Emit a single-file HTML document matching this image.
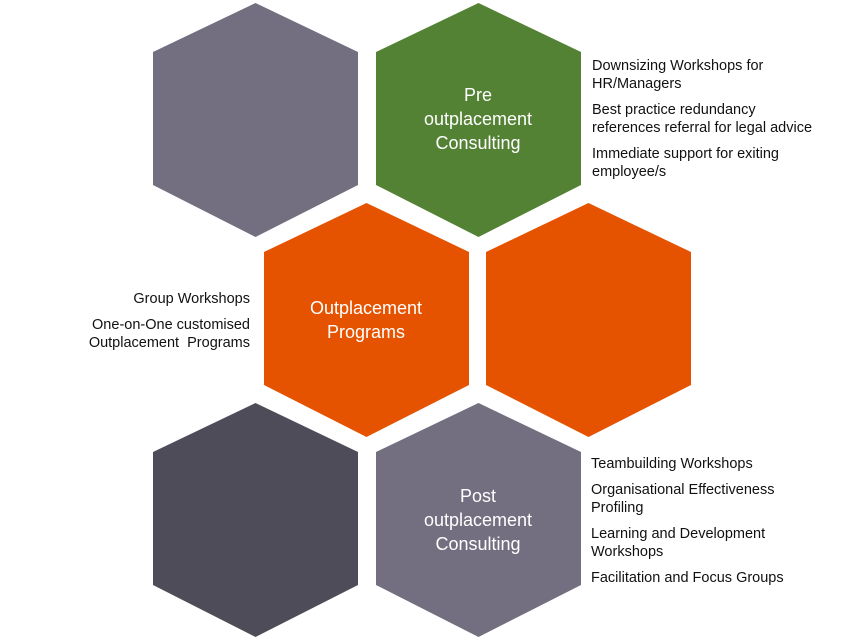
<!DOCTYPE html>
<html><head><meta charset="utf-8"><style>
body{margin:0;background:#fff;width:850px;height:640px;overflow:hidden;font-family:"Liberation Sans",sans-serif}
svg{position:absolute;left:0;top:0}
.t{position:absolute;font-size:14.5px;color:#111;line-height:18px;white-space:nowrap}
.t p{margin:0 0 8px 0}
</style></head><body>
<svg width="850" height="640">
<defs><polygon id="h" points="102.5,0 205,49 205,182 102.5,234 0,182 0,49"/></defs>
<use href="#h" x="153" y="3" fill="#736f80"/>
<use href="#h" x="376" y="3" fill="#548235"/>
<use href="#h" x="264" y="203" fill="#e65300"/>
<use href="#h" x="486" y="203" fill="#e65300"/>
<use href="#h" x="153" y="403" fill="#4f4c5a"/>
<use href="#h" x="376" y="403" fill="#736f80"/>
<g fill="#fff" font-size="18" font-family="Liberation Sans,sans-serif" text-anchor="middle">
<text x="478" y="101">Pre</text><text x="478" y="125">outplacement</text><text x="478" y="149">Consulting</text>
<text x="366" y="314">Outplacement</text><text x="366" y="338">Programs</text>
<text x="478" y="502">Post</text><text x="478" y="526">outplacement</text><text x="478" y="550">Consulting</text>
</g>
</svg>
<div class="t" style="left:592px;top:57px">
<p>Downsizing Workshops for<br>HR/Managers</p>
<p>Best practice redundancy<br>references referral for legal advice</p>
<p>Immediate support for exiting<br>employee/s</p></div>
<div class="t" style="left:20px;top:290px;width:230px;text-align:right">
<p>Group Workshops</p>
<p>One-on-One customised<br>Outplacement&nbsp; Programs</p></div>
<div class="t" style="left:591px;top:455px">
<p>Teambuilding Workshops</p>
<p>Organisational Effectiveness<br>Profiling</p>
<p>Learning and Development<br>Workshops</p>
<p>Facilitation and Focus Groups</p></div>
</body></html>
